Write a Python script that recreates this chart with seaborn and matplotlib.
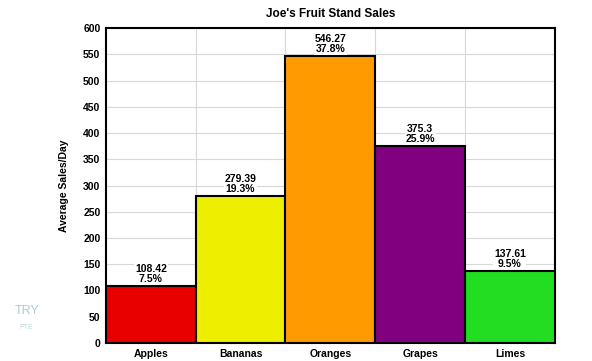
import matplotlib
matplotlib.use("Agg")
import matplotlib.pyplot as plt
import seaborn as sns
import pandas as pd

# datos del grafico
fruits = ["Apples", "Bananas", "Oranges", "Grapes", "Limes"]
sales = [108.42, 279.39, 546.27, 375.3, 137.61]
shares = ["7.5%", "19.3%", "37.8%", "25.9%", "9.5%"]
colors = ["#E80000", "#EEEE00", "#FF9A00", "#800080", "#22DD22"]

df = pd.DataFrame({"fruit": fruits, "sales": sales})

sns.set_style("white")
plt.rcParams["font.family"] = ["Liberation Sans", "DejaVu Sans"]
plt.rcParams["text.color"] = "black"
plt.rcParams["axes.labelcolor"] = "black"
plt.rcParams["xtick.color"] = "black"
plt.rcParams["ytick.color"] = "black"

fig = plt.figure(figsize=(5.92, 3.61), dpi=100)
ax = fig.add_axes([0.179, 0.05, 0.758, 0.872])

sns.barplot(data=df, x="fruit", y="sales", hue="fruit", palette=colors,
            saturation=1, width=1.0, edgecolor="black", linewidth=1.5,
            legend=False, ax=ax, zorder=3)

ax.set_ylim(0, 600)
ax.set_xlim(-0.5, 4.5)
ax.set_yticks(range(0, 601, 50))
ax.yaxis.grid(True, color="#d8d8d8", linewidth=0.8, zorder=0)
for b in [0.5, 1.5, 2.5, 3.5]:
    ax.axvline(b, color="#d8d8d8", linewidth=0.8, zorder=0)

for i, (v, s) in enumerate(zip(sales, shares)):
    ax.text(i, v + 4, f"{v:g}\n{s}", ha="center", va="bottom", fontsize=7.5,
            fontweight="bold", linespacing=1.0, multialignment="center",
            color="black", zorder=4,
            bbox=dict(facecolor="white", edgecolor="none", pad=0.5))

for sp in ax.spines.values():
    sp.set_color("black")
    sp.set_linewidth(1.5)

ax.tick_params(axis="both", length=0, labelsize=7.5, pad=4)
for lab in ax.get_xticklabels() + ax.get_yticklabels():
    lab.set_fontweight("bold")

ax.set_xlabel("")
ax.set_ylabel("Average Sales/Day", fontsize=7.5, fontweight="bold", labelpad=10)
ax.set_title("Joe's Fruit Stand Sales", fontsize=8.5, fontweight="bold", pad=8)

# marca de agua
fig.text(0.045, 0.13, "TRY", color="#a9cdd3", fontsize=9, ha="center")
fig.text(0.045, 0.09, "PTE", color="#b9d8dc", fontsize=5, ha="center")

fig.savefig("out.png", dpi=100)
